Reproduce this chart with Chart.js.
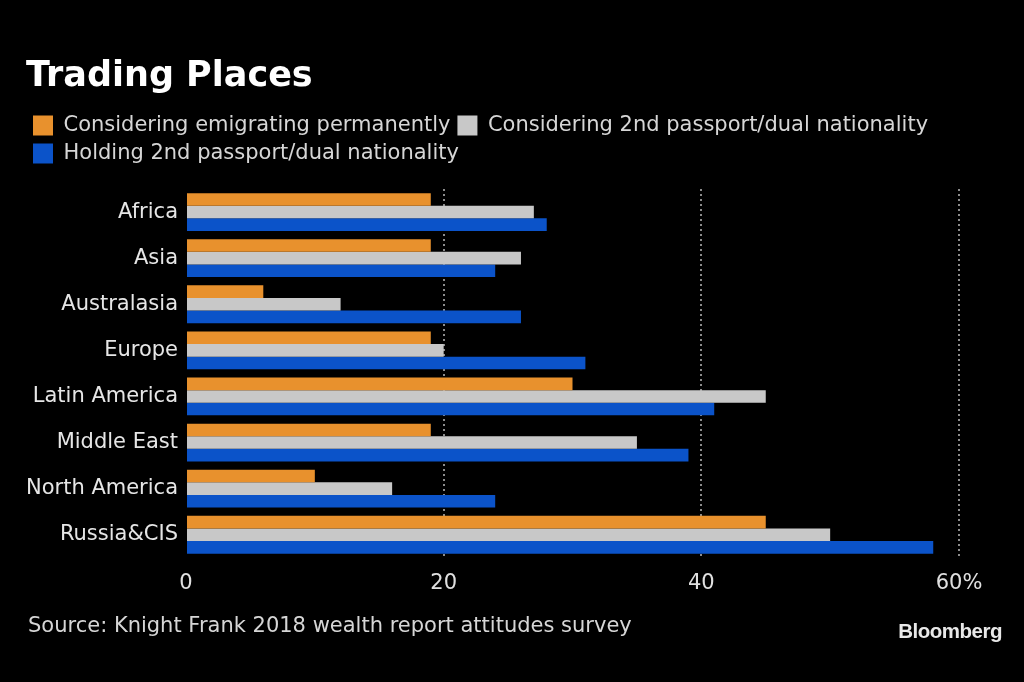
<!DOCTYPE html>
<html>
<head>
<meta charset="utf-8">
<script src="https://cdn.jsdelivr.net/npm/chart.js@4"></script>
<style>
  html, body { margin:0; padding:0; background:#000; }
  #wrap { position:relative; width:1024px; height:682px; background:#000; overflow:hidden; }
  #c { position:absolute; left:0; top:0; }
  #source { position:absolute; left:28px; top:613px; color:#d6d6d6; font:21px "DejaVu Sans", sans-serif; white-space:nowrap; }
  #brand { position:absolute; right:22px; top:619px; color:#e8e8e8; font:bold 20.5px "Liberation Sans", Arial, sans-serif; letter-spacing:-0.5px; }
</style>
</head>
<body>
<div id="wrap">
  <canvas id="c" width="1024" height="682"></canvas>
  <div id="source">Source: Knight Frank 2018 wealth report attitudes survey</div>
  <div id="brand">Bloomberg</div>
</div>
<script>
const categories = ["Africa", "Asia", "Australasia", "Europe", "Latin America", "Middle East", "North America", "Russia&CIS"];
const seriesNames = ["Considering emigrating permanently", "Considering 2nd passport/dual nationality", "Holding 2nd passport/dual nationality"];
const emigrating = [19, 19, 6, 19, 30, 19, 10, 45];
const considering2nd = [27, 26, 12, 20, 45, 35, 16, 50];
const holding2nd = [28, 24, 26, 31, 41, 39, 24, 58];
const xTicks = [0, 20, 40, 60];
const titleText = "Trading Places";

const FONT = '"DejaVu Sans", sans-serif';
const colors = ["#E8912D", "#C8C8C8", "#0B53C9"];

const legendMargin = {
  id: 'legendMargin',
  beforeInit(chart) {
    const orig = chart.legend.fit;
    chart.legend.fit = function () { orig.bind(chart.legend)(); this.height += 15; };
  }
};

new Chart(document.getElementById('c'), {
  type: 'bar',
  data: {
    labels: categories,
    datasets: [
      { label: seriesNames[0], data: emigrating, backgroundColor: colors[0] },
      { label: seriesNames[1], data: considering2nd, backgroundColor: colors[1] },
      { label: seriesNames[2], data: holding2nd, backgroundColor: colors[2] }
    ]
  },
  options: {
    indexAxis: 'y',
    responsive: false,
    animation: false,
    events: [],
    datasets: { bar: { categoryPercentage: 0.82, barPercentage: 1.0, borderWidth: 0 } },
    layout: { padding: { left: 26, right: 65, top: 0, bottom: 73 } },
    plugins: {
      title: {
        display: true, text: titleText, align: 'start', color: '#ffffff',
        font: { family: FONT, size: 35, weight: 'bold' },
        padding: { top: 56, bottom: 10 }
      },
      legend: {
        display: true, position: 'top', align: 'start',
        labels: {
          color: '#d6d6d6', font: { family: FONT, size: 21 },
          boxWidth: 20, boxHeight: 20, padding: 7
        }
      },
      tooltip: { enabled: false }
    },
    scales: {
      x: {
        min: 0, max: 60,
        afterBuildTicks: s => { s.ticks = xTicks.map(v => ({ value: v })); },
        grid: {
          drawTicks: false,
          color: ctx => ctx.tick && ctx.tick.value === 0 ? 'rgba(0,0,0,0)' : '#8c8c8c',
          lineWidth: 2
        },
        border: { display: false, dash: [2, 3] },
        ticks: {
          color: '#e0e0e0', font: { family: FONT, size: 21 }, padding: 13,
          callback: v => v === 60 ? v + '%' : String(v)
        }
      },
      y: {
        afterFit: s => { s.width = 160; },
        border: { display: false },
        grid: { display: false, drawTicks: false },
        ticks: { color: '#e6e6e6', font: { family: FONT, size: 21 }, padding: 8 }
      }
    }
  },
  plugins: [legendMargin]
});
</script>
</body>
</html>
